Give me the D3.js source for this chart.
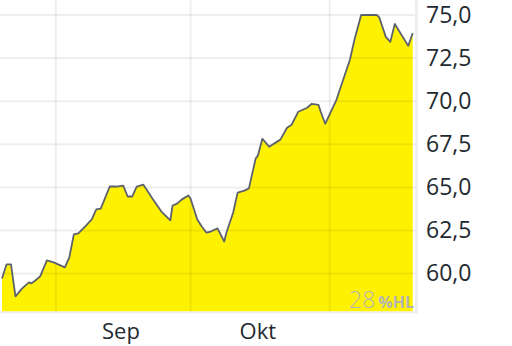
<!DOCTYPE html>
<html><head><meta charset="utf-8">
<script src="https://cdn.jsdelivr.net/npm/d3@7"></script>
<style>
html,body{margin:0;padding:0;background:#fff;}
svg{display:block;font-family:"Open Sans",sans-serif;}
</style></head>
<body><svg id="c" width="512" height="346"></svg>
<script>
const dates = ["2023-08-20T00","2023-08-21T00","2023-08-22T00","2023-08-23T00","2023-08-24T12","2023-08-26T00","2023-08-26T12","2023-08-27T12","2023-08-28T12","2023-08-30T00",
"2023-08-31T12","2023-09-03T00","2023-09-04T00","2023-09-05T00","2023-09-06T00","2023-09-07T12","2023-09-09T00","2023-09-10T00","2023-09-11T00","2023-09-13T00",
"2023-09-14T12","2023-09-16T00","2023-09-17T00","2023-09-18T00","2023-09-19T00","2023-09-20T12","2023-09-22T12","2023-09-24T12","2023-09-26T12","2023-09-27T00",
"2023-09-28T00","2023-09-29T00","2023-09-30T12","2023-10-01T00","2023-10-02T12","2023-10-03T12","2023-10-04T12","2023-10-05T12","2023-10-07T00","2023-10-08T12",
"2023-10-09T00","2023-10-10T12","2023-10-11T12","2023-10-13T00","2023-10-14T00","2023-10-15T12","2023-10-16T00","2023-10-17T00","2023-10-18T12","2023-10-21T00",
"2023-10-22T12","2023-10-23T12","2023-10-25T00","2023-10-27T00","2023-10-28T00","2023-10-29T12","2023-10-30T00","2023-10-31T00","2023-11-02T12","2023-11-04T00",
"2023-11-05T12","2023-11-06T12","2023-11-08T00","2023-11-11T12","2023-11-12T00","2023-11-13T12","2023-11-14T12","2023-11-15T12","2023-11-18T12","2023-11-19T12"];
const prices = [59.72,60.53,60.53,58.68,59.14,59.49,59.43,59.61,59.84,60.76,
60.65,60.36,60.94,62.27,62.33,62.73,63.14,63.72,63.77,65.05,
65.05,65.10,64.47,64.47,65.05,65.16,64.35,63.60,63.08,63.95,
64.06,64.29,64.53,64.35,63.14,62.73,62.38,62.44,62.62,61.86,
62.38,63.54,64.70,64.81,64.94,66.67,66.84,67.82,67.36,67.77,
68.46,68.63,69.39,69.62,69.85,69.79,69.39,68.69,70.08,71.24,
72.40,73.55,75.00,75.00,74.88,73.73,73.44,74.48,73.21,73.96];
const yTicks = [60, 62.5, 65, 67.5, 70, 72.5, 75];
const monthStarts = ["2023-09-01","2023-10-01","2023-11-01"];
const monthLabels = ["Sep","Okt"];
const monthLabelDates = ["2023-09-15T12","2023-10-16T00"];
const xDomain = ["2023-08-20T00","2023-11-20T00"];
const yDomain = [57.8, 75.87];
const badgeValue = "28";
const badgeUnit = "%HL";

const parse = d3.utcParse("%Y-%m-%dT%H");
const parseDay = d3.utcParse("%Y-%m-%d");
const data = dates.map((d,i)=>({t:parse(d), v:prices[i]}));

const svg = d3.select("#c");
const L=2, R=415, T=0, B=311.5;
const x = d3.scaleUtc().domain(xDomain.map(parse)).range([L,R]);
const y = d3.scaleLinear().domain(yDomain).range([B,T]);

const area = d3.area().x(d=>x(d.t)).y0(B).y1(d=>y(d.v));
const line = d3.line().x(d=>x(d.t)).y(d=>y(d.v));

svg.append("path").datum(data).attr("d",area).attr("fill","#fff200");

// grid
const g = svg.append("g");
g.selectAll("line.h").data(yTicks).join("line")
  .attr("x1",0).attr("x2",R).attr("y1",d=>y(d)).attr("y2",d=>y(d))
  .attr("stroke","#000").attr("stroke-opacity",0.065).attr("stroke-width",2);
g.selectAll("line.v").data(monthStarts.map(parseDay)).join("line")
  .attr("x1",d=>x(d)).attr("x2",d=>x(d)).attr("y1",0).attr("y2",B)
  .attr("stroke","#000").attr("stroke-opacity",0.065).attr("stroke-width",2);

svg.append("path").datum(data).attr("d",line)
  .attr("fill","none").attr("stroke","#5c626b").attr("stroke-width",1.8).attr("stroke-linejoin","round");

// borders
svg.append("line").attr("x1",0).attr("x2",R+2.5).attr("y1",B+1).attr("y2",B+1)
  .attr("stroke","#eeeeee").attr("stroke-width",2);
svg.append("line").attr("x1",R+1.5).attr("x2",R+1.5).attr("y1",0).attr("y2",B+2)
  .attr("stroke","#eeeeee").attr("stroke-width",3);

// y axis labels
const fmt = v => d3.format(".1f")(v).replace(".",",");
svg.selectAll("text.y").data(yTicks).join("text")
  .attr("x",426).attr("y",d=>y(d)+7.5)
  .attr("font-size",23).attr("fill","#222a30").text(fmt);

// x labels
svg.selectAll("text.x").data(monthLabels).join("text")
  .attr("x",(d,i)=>x(parse(monthLabelDates[i]))).attr("y",339)
  .attr("text-anchor","middle").attr("font-size",22).attr("fill","#222a30").text(d=>d);

// badge
const bt = svg.append("text").attr("x",414).attr("y",308).attr("text-anchor","end").attr("fill","#b4b4b4");
bt.append("tspan").attr("font-size",23).attr("font-weight",300).text(badgeValue);
bt.append("tspan").attr("font-size",16).attr("font-weight",700).attr("dx",3).text(badgeUnit);
</script></body></html>
